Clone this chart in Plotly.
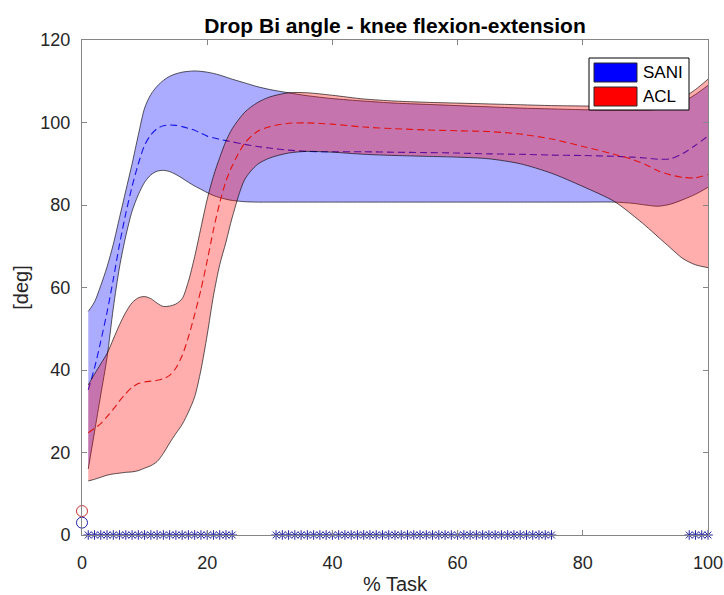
import plotly.graph_objects as go

# ---------------- data ----------------
task_pct = [1, 2, 3, 4, 5, 6, 7, 8, 9, 10, 11, 12, 13, 14, 15, 16, 17, 18, 19, 20,
            21, 22, 23, 24, 26, 28, 30, 33, 36, 40, 45, 50, 55, 60, 65, 70, 75, 80,
            85, 88, 90, 92, 94, 96, 98, 100]

sani_upper = [54.2, 56.5, 60.5, 65, 70.5, 77, 83.5, 90, 97, 103.5, 106.8, 108.8, 110.2,
              111.2, 111.8, 112.2, 112.4, 112.5, 112.4, 112.2, 111.9, 111.5, 111, 110.5,
              109.6, 108.7, 108, 107.2, 106.5, 105.8, 105.2, 104.7, 104.4, 104.1, 103.8,
              103.5, 103.3, 103.1, 103, 103, 103, 103.2, 103.8, 105, 106.8, 109]
sani_lower = [16, 25, 34, 43, 55, 65, 72.5, 78.5, 82.5, 85.5, 87.3, 88.2, 88.4, 88.1,
              87.4, 86.5, 85.5, 84.6, 83.8, 83, 82.3, 81.8, 81.4, 81.1, 80.8, 80.7, 80.7,
              80.7, 80.7, 80.7, 80.7, 80.7, 80.7, 80.7, 80.7, 80.7, 80.7, 80.7, 80.7,
              80.4, 80, 79.7, 80.2, 81.3, 82.6, 84.3]
sani_mean = [35.2, 40.5, 47, 54, 62, 70.5, 78, 84.5, 90, 94.5, 97, 98.5, 99.2, 99.4, 99.3,
             99, 98.6, 98.1, 97.4, 96.7, 96.3, 95.9, 95.6, 95.3, 94.7, 94.2, 93.8, 93.3,
             93, 92.9, 92.9, 92.8, 92.7, 92.6, 92.4, 92.3, 92.1, 92, 91.8, 91.6, 91.4,
             91.1, 91.2, 92.5, 94.5, 96.7]

acl_upper = [36.4, 39, 41.5, 44, 47.5, 51, 54, 56.3, 57.5, 57.8, 57.3, 56.2, 55.4, 55.5,
             56, 57.3, 61.5, 67.5, 74.5, 81.4, 87, 91.5, 95.5, 98.5, 102.5, 104.8, 106.2,
             107.2, 107.2, 106.6, 105.7, 105.2, 104.9, 104.7, 104.5, 104.3, 104.1, 104,
             103.9, 103.9, 104, 104.2, 104.8, 106, 108, 110.5]
acl_lower = [13.1, 13.5, 14, 14.5, 14.8, 15, 15.2, 15.3, 15.6, 16.2, 16.8, 17.8, 19.8,
             22.3, 24.6, 26.8, 29.8, 33.5, 40, 48.5, 58, 65.5, 71, 77, 86.2, 89.8, 91.4,
             92.6, 93, 92.8, 92.3, 92, 91.8, 91.6, 91.2, 90, 87.7, 84.5, 80.9, 77.5, 75,
             72.3, 69.6, 67, 65.5, 64.8]
acl_mean = [24.8, 25.8, 27, 28.7, 30.5, 32.5, 34.3, 35.8, 36.7, 37.1, 37.3, 37.5, 37.9,
            38.7, 40.5, 43.5, 48, 53.5, 59.5, 66.5, 74, 80.5, 85.8, 89.5, 95, 97.8, 99,
            99.8, 99.9, 99.6, 98.9, 98.5, 98.2, 98, 97.8, 97.2, 96, 94.2, 92.3, 91, 89.8,
            88.3, 87.3, 86.7, 86.6, 87.4]

# significant-difference samples (% task), shown as stars on the x axis
sig_segments = [(1, 24), (31, 75), (97, 100)]
sig_x = [v for a, b in sig_segments for v in range(a, b + 1)]
sig_y = [0] * len(sig_x)

# start markers at 0 % task
start_x = [0]
start_y_sani = [3.0]
start_y_acl = [5.8]

groups = ["SANI", "ACL"]
xticks = [0, 20, 40, 60, 80, 100]
yticks = [0, 20, 40, 60, 80, 100, 120]

# ---------------- figure ----------------
FONT = "Liberation Sans, Arial, Helvetica, sans-serif"
edge = dict(color="rgba(0,0,0,0.8)", width=0.8, shape="spline", smoothing=0.8)

fig = go.Figure()

def band(lower, upper, fillcolor):
    fig.add_trace(go.Scatter(x=task_pct, y=lower, mode="lines", line=edge,
                             showlegend=False, hoverinfo="skip"))
    fig.add_trace(go.Scatter(x=task_pct, y=upper, mode="lines", line=edge,
                             fill="tonexty", fillcolor=fillcolor,
                             showlegend=False, hoverinfo="skip"))

def mean_line(y, color):
    fig.add_trace(go.Scatter(x=task_pct, y=y, mode="lines",
                             line=dict(color=color, width=1.1, dash="7px,4px",
                                       shape="spline", smoothing=0.8),
                             showlegend=False))

band(sani_lower, sani_upper, "rgba(0,0,255,0.33)")
mean_line(sani_mean, "rgb(20,20,230)")
band(acl_lower, acl_upper, "rgba(255,0,0,0.32)")
mean_line(acl_mean, "rgb(225,20,20)")

fig.add_trace(go.Scatter(x=sig_x, y=sig_y, mode="markers", cliponaxis=False,
                         marker=dict(symbol="asterisk-open", size=8,
                                     color="rgb(35,35,160)",
                                     line=dict(color="rgb(35,35,160)", width=1)),
                         showlegend=False))
fig.add_trace(go.Scatter(x=start_x, y=start_y_acl, mode="markers", cliponaxis=False,
                         marker=dict(symbol="circle-open", size=11,
                                     color="rgb(200,50,50)",
                                     line=dict(color="rgb(200,50,50)", width=1)),
                         showlegend=False))
fig.add_trace(go.Scatter(x=start_x, y=start_y_sani, mode="markers", cliponaxis=False,
                         marker=dict(symbol="circle-open", size=11,
                                     color="rgb(30,30,170)",
                                     line=dict(color="rgb(30,30,170)", width=1)),
                         showlegend=False))

# ---------------- layout ----------------
L, R, T, B = 82, 16, 40, 60
W, H = 724, 595
pw, ph = W - L - R, H - T - B

def px(xp):
    return (xp - L) / pw

def py(yp):
    return (H - B - yp) / ph

axis_common = dict(showgrid=False, zeroline=False, showline=True, linecolor="#858585",
                   linewidth=1, mirror="allticks", ticks="inside", ticklen=5,
                   automargin=False,
                   tickcolor="#858585", tickfont=dict(family=FONT, size=18, color="#262626"))

fig.update_layout(
    width=W, height=H,
    margin=dict(l=L, r=R, t=T, b=B, autoexpand=False),
    paper_bgcolor="white", plot_bgcolor="white",
    showlegend=False,
    title=dict(text="<b>Drop Bi angle - knee flexion-extension</b>",
               x=(L + pw / 2) / W, xanchor="center", y=1 - 26 / H, yanchor="middle",
               font=dict(family=FONT, size=21, color="black")),
    xaxis=dict(range=[0, 100], tickvals=xticks, ticklabelstandoff=11,
               title=dict(text="% Task", font=dict(family=FONT, size=20, color="#262626"),
                          standoff=6),
               **axis_common),
    yaxis=dict(range=[0, 120], tickvals=yticks, ticklabelstandoff=7,
               title=dict(text="[deg]", font=dict(family=FONT, size=20, color="#262626"),
                          standoff=6),
               **axis_common),
)

# legend box (drawn as layout decoration)
colors = ["rgb(0,0,255)", "rgb(255,0,0)"]
shapes = [dict(type="rect", xref="paper", yref="paper",
               x0=px(589), x1=px(689), y0=py(110), y1=py(58),
               line=dict(color="black", width=1), fillcolor="white", layer="above")]
patch_rows = [(63, 82), (87, 106)]
for (y0, y1), c, name in zip(patch_rows, colors, groups):
    shapes.append(dict(type="rect", xref="paper", yref="paper",
                       x0=px(594), x1=px(637), y0=py(y1), y1=py(y0),
                       line=dict(color="rgb(40,40,40)", width=1), fillcolor=c,
                       layer="above"))
    fig.add_annotation(xref="paper", yref="paper", x=px(641), y=py((y0 + y1) / 2),
                       xanchor="left", yanchor="middle", showarrow=False, text=name,
                       font=dict(family=FONT, size=17, color="black"))
fig.update_layout(shapes=shapes)

fig.write_html("out.html")
